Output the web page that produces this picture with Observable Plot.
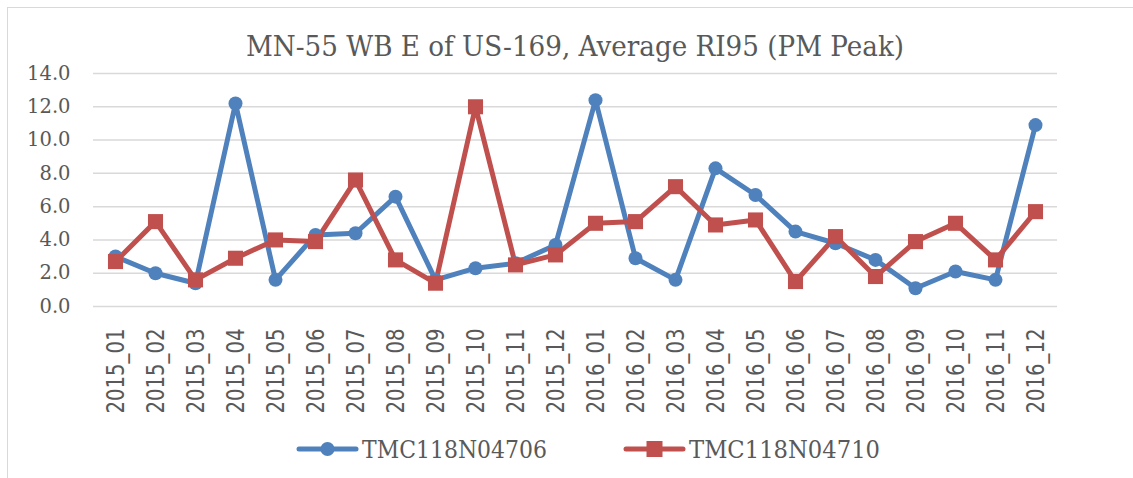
<!DOCTYPE html>
<html>
<head>
<meta charset="utf-8">
<script src="https://cdn.jsdelivr.net/npm/d3@7"></script>
<script src="https://cdn.jsdelivr.net/npm/@observablehq/plot@0.6"></script>
<style>
  html, body { margin: 0; padding: 0; background: #fff; }
  #wrap { position: relative; width: 1133px; height: 478px; overflow: hidden; }
  #frame { position: absolute; left: 7px; top: 7px; right: -2px; bottom: -2px; border-left: 1px solid #d9d9d9; border-top: 1px solid #d9d9d9; }
  #chart { position: absolute; left: 0; top: 0; }
  #title { position: absolute; left: 0; top: 0; }
  #legend { position: absolute; left: 0; top: 420px; }
</style>
</head>
<body>
<div id="wrap">
  <div id="frame"></div>
  <div id="chart"></div>
  <svg id="title" width="1133" height="70"></svg>
  <svg id="legend" width="1133" height="58"></svg>
</div>
<script>
const titleText = "MN-55 WB E of US-169, Average RI95 (PM Peak)";
const months = ["2015_01","2015_02","2015_03","2015_04","2015_05","2015_06","2015_07","2015_08","2015_09","2015_10","2015_11","2015_12",
                "2016_01","2016_02","2016_03","2016_04","2016_05","2016_06","2016_07","2016_08","2016_09","2016_10","2016_11","2016_12"];
const seriesA = "TMC118N04706";
const seriesB = "TMC118N04710";
const valuesA = [3.0, 2.0, 1.4, 12.2, 1.6, 4.3, 4.4, 6.6, 1.6, 2.3, 2.6, 3.7,
                 12.4, 2.9, 1.6, 8.3, 6.7, 4.5, 3.8, 2.8, 1.1, 2.1, 1.6, 10.9];
const valuesB = [2.7, 5.1, 1.6, 2.9, 4.0, 3.9, 7.6, 2.8, 1.4, 12.0, 2.5, 3.1,
                 5.0, 5.1, 7.2, 4.9, 5.2, 1.5, 4.2, 1.8, 3.9, 5.0, 2.8, 5.7];
const yTicks = [0, 2, 4, 6, 8, 10, 12, 14];

const blue = "#4f81bd", red = "#c0504d", textCol = "#595959", gridCol = "#d9d9d9";
const serif = "'DejaVu Serif', serif";
const narrow = "'Liberation Sans Narrow', 'DejaVu Sans Condensed', 'Liberation Sans', sans-serif";

const dataA = months.map((m, i) => ({month: m, value: valuesA[i]}));
const dataB = months.map((m, i) => ({month: m, value: valuesB[i]}));

const chart = Plot.plot({
  width: 1133,
  height: 420,
  marginLeft: 93,
  marginRight: 76,
  marginTop: 73,
  marginBottom: 114,
  style: {background: "transparent", color: textCol},
  x: {type: "point", domain: months, padding: 0.5, label: null},
  y: {domain: [0, 14], label: null},
  marks: [
    Plot.gridY(yTicks, {stroke: gridCol, strokeOpacity: 1, strokeWidth: 1.5}),
    Plot.axisY(yTicks, {tickSize: 0, tickPadding: 23, tickFormat: d => d.toFixed(1), fontSize: 19.5, fontFamily: serif, fill: textCol, label: null}),
    Plot.axisX({tickSize: 0, tickPadding: 22, tickRotate: -90, fontSize: 25, fontFamily: narrow, fill: textCol, label: null}),
    Plot.line(dataA, {x: "month", y: "value", stroke: blue, strokeWidth: 5}),
    Plot.line(dataB, {x: "month", y: "value", stroke: red, strokeWidth: 5}),
    Plot.dot(dataA, {x: "month", y: "value", r: 7, fill: blue, symbol: "circle"}),
    Plot.dot(dataB, {x: "month", y: "value", r: 8.5, fill: red, symbol: "square"})
  ]
});
document.getElementById("chart").appendChild(chart);

// condense x tick labels to Excel-like width
chart.querySelectorAll('g[aria-label="x-axis tick label"] text').forEach(t => {
  t.setAttribute("textLength", 85);
  t.setAttribute("lengthAdjust", "spacingAndGlyphs");
});

// title
const ns = "http://www.w3.org/2000/svg";
const tsvg = document.getElementById("title");
const tt = document.createElementNS(ns, "text");
tt.setAttribute("x", 575); tt.setAttribute("y", 56);
tt.setAttribute("text-anchor", "middle");
tt.setAttribute("font-family", serif);
tt.setAttribute("font-size", 28.5);
tt.setAttribute("fill", textCol);
tt.setAttribute("textLength", 658);
tt.setAttribute("lengthAdjust", "spacingAndGlyphs");
tt.textContent = titleText;
tsvg.appendChild(tt);

// legend
const lsvg = document.getElementById("legend");
function legendItem(x0, color, shape, label, len) {
  const cy = 29;
  const ln = document.createElementNS(ns, "line");
  ln.setAttribute("x1", x0); ln.setAttribute("x2", x0 + 57);
  ln.setAttribute("y1", cy); ln.setAttribute("y2", cy);
  ln.setAttribute("stroke", color); ln.setAttribute("stroke-width", 5);
  ln.setAttribute("stroke-linecap", "round");
  lsvg.appendChild(ln);
  if (shape === "circle") {
    const c = document.createElementNS(ns, "circle");
    c.setAttribute("cx", x0 + 28.5); c.setAttribute("cy", cy); c.setAttribute("r", 7);
    c.setAttribute("fill", color);
    lsvg.appendChild(c);
  } else {
    const r = document.createElementNS(ns, "rect");
    r.setAttribute("x", x0 + 28.5 - 8); r.setAttribute("y", cy - 8);
    r.setAttribute("width", 16); r.setAttribute("height", 16);
    r.setAttribute("fill", color);
    lsvg.appendChild(r);
  }
  const t = document.createElementNS(ns, "text");
  t.setAttribute("x", x0 + 63); t.setAttribute("y", 38);
  t.setAttribute("font-family", serif);
  t.setAttribute("font-size", 24);
  t.setAttribute("fill", textCol);
  t.setAttribute("textLength", len);
  t.setAttribute("lengthAdjust", "spacingAndGlyphs");
  t.textContent = label;
  lsvg.appendChild(t);
}
legendItem(299, blue, "circle", seriesA, 185);
legendItem(626, red, "square", seriesB, 191);
</script>
</body>
</html>
